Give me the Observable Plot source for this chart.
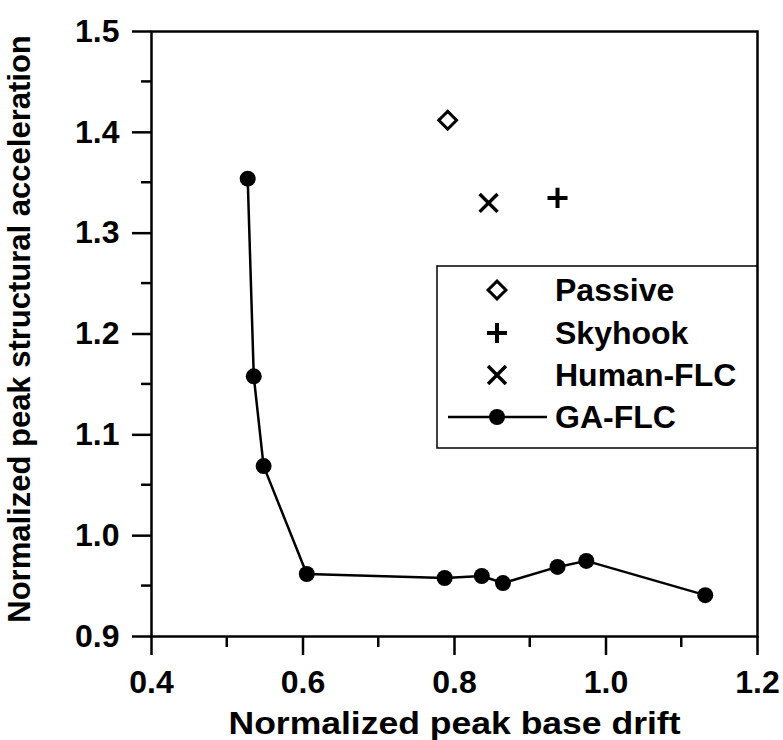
<!DOCTYPE html>
<html><head><meta charset="utf-8">
<script src="https://cdn.jsdelivr.net/npm/d3@7"></script>
<script src="https://cdn.jsdelivr.net/npm/@observablehq/plot@0.6"></script>
<style>
body{margin:0;background:#fff;}
#chart{width:783px;height:740px;}
</style></head><body><div id="chart"></div>
<script>
// ---- data ----
const gaDrift = [0.527, 0.535, 0.548, 0.605, 0.787, 0.836, 0.864, 0.936, 0.974, 1.131];
const gaAccel = [1.354, 1.158, 1.069, 0.962, 0.958, 0.960, 0.953, 0.969, 0.975, 0.941];
const passiveDrift = [0.791];
const passiveAccel = [1.412];
const skyhookDrift = [0.936];
const skyhookAccel = [1.335];
const humanDrift = [0.845];
const humanAccel = [1.330];
const legendLabels = ["Passive", "Skyhook", "Human-FLC", "GA-FLC"];
const xMajor = [0.4, 0.6, 0.8, 1.0, 1.2];
const xMinor = [0.5, 0.7, 0.9, 1.1];
const yMajor = [0.9, 1.0, 1.1, 1.2, 1.3, 1.4, 1.5];
const yMinor = [0.95, 1.05, 1.15, 1.25, 1.35, 1.45];
const xTitle = "Normalized peak base drift";
const yTitle = "Normalized peak structural acceleration";

const toTable = (xs, ys) => xs.map((d, i) => ({drift: d, accel: ys[i]}));
const ga = toTable(gaDrift, gaAccel);
const passive = toTable(passiveDrift, passiveAccel);
const skyhook = toTable(skyhookDrift, skyhookAccel);
const human = toTable(humanDrift, humanAccel);

const font = "'Liberation Sans', Arial, Helvetica, sans-serif";
const fmt = d3.format(".1f");

const plot = Plot.plot({
  width: 783, height: 740,
  marginLeft: 151, marginRight: 26, marginTop: 31, marginBottom: 104,
  style: {fontFamily: font, fontSize: "32px", fontWeight: "bold", color: "black", background: "white", overflow: "visible"},
  x: {domain: [0.4, 1.2], label: null, ticks: xMajor, tickSize: 19, tickPadding: 15, tickFormat: fmt},
  y: {domain: [0.9, 1.5], label: null, ticks: yMajor, tickSize: 19, tickPadding: 13, tickFormat: fmt},
  marks: [
    Plot.frame({stroke: "black", strokeWidth: 2.5}),
    Plot.text([xTitle], {frameAnchor: "bottom", dy: 87, lineAnchor: "middle", fontSize: 32, fill: "black"}),
    Plot.text([yTitle], {frameAnchor: "left", dx: -131, dy: -5, rotate: -90, lineAnchor: "middle", textAnchor: "middle", fontSize: 31, fill: "black"}),
    Plot.line(ga, {x: "drift", y: "accel", stroke: "black", strokeWidth: 2.5}),
    Plot.dot(ga, {x: "drift", y: "accel", r: 8, fill: "black"}),
    Plot.dot(passive, {x: "drift", y: "accel", symbol: "diamond2", r: 8, stroke: "black", strokeWidth: 3, fill: "none"}),
    Plot.dot(skyhook, {x: "drift", y: "accel", symbol: "plus", r: 6.5, stroke: "black", strokeWidth: 4}),
    Plot.dot(human, {x: "drift", y: "accel", symbol: "times", r: 8.2, stroke: "black", strokeWidth: 3.5})
  ]
});
document.getElementById("chart").appendChild(plot);

const svg = d3.select(plot);
// axis styling: thicker ticks, black labels
svg.selectAll('[aria-label="x-axis"] line, [aria-label="y-axis"] line, [aria-label="x-axis tick"] path, [aria-label="y-axis tick"] path')
  .attr("stroke-width", 2.5).attr("stroke", "black");
svg.selectAll('[aria-label="x-axis"] text, [aria-label="y-axis"] text').attr("fill", "black");
// stretch the x title horizontally to match the original's wider lettering
svg.selectAll("text").filter(function() { return this.textContent === xTitle; })
  .attr("textLength", 452).attr("lengthAdjust", "spacingAndGlyphs");

// minor ticks using the plot's own scales
const sx = plot.scale("x"), sy = plot.scale("y");
const x0 = sx.range[0], yBottom = sy.range[0];
const minor = svg.append("g").attr("stroke", "black").attr("stroke-width", 2.5);
xMinor.forEach(v => {
  const px = sx.apply(v);
  minor.append("line").attr("x1", px).attr("x2", px).attr("y1", yBottom).attr("y2", yBottom + 11);
});
yMinor.forEach(v => {
  const py = sy.apply(v);
  minor.append("line").attr("x1", x0).attr("x2", x0 - 10).attr("y1", py).attr("y2", py);
});

// ---- legend (inside the plot area, upper right) ----
const lg = svg.append("g").attr("font-family", font).attr("font-weight", "bold")
  .attr("font-size", "32px").attr("text-anchor", "start");
lg.append("rect").attr("x", 437).attr("y", 266).attr("width", 320).attr("height", 182)
  .attr("fill", "white").attr("stroke", "black").attr("stroke-width", 1.5);
const rowY = [290, 333, 375, 417];
const symX = 497;
const sym = (type, r) => d3.symbol().type(type).size(Math.PI * r * r)();
lg.append("path").attr("d", sym(d3.symbolDiamond2, 8)).attr("transform", `translate(${symX},${rowY[0]})`)
  .attr("fill", "none").attr("stroke", "black").attr("stroke-width", 3);
lg.append("path").attr("d", sym(d3.symbolPlus, 6.5)).attr("transform", `translate(${symX},${rowY[1]})`)
  .attr("fill", "none").attr("stroke", "black").attr("stroke-width", 4);
lg.append("path").attr("d", sym(d3.symbolTimes, 8.2)).attr("transform", `translate(${symX},${rowY[2]})`)
  .attr("fill", "none").attr("stroke", "black").attr("stroke-width", 3.5);
lg.append("line").attr("x1", 448).attr("x2", 547).attr("y1", rowY[3]).attr("y2", rowY[3])
  .attr("stroke", "black").attr("stroke-width", 2.5);
lg.append("circle").attr("cx", symX).attr("cy", rowY[3]).attr("r", 8).attr("fill", "black");
legendLabels.forEach((t, i) => {
  lg.append("text").attr("x", 555).attr("y", rowY[i]).attr("dy", "0.35em").attr("fill", "black").text(t);
});
</script>
</body></html>
